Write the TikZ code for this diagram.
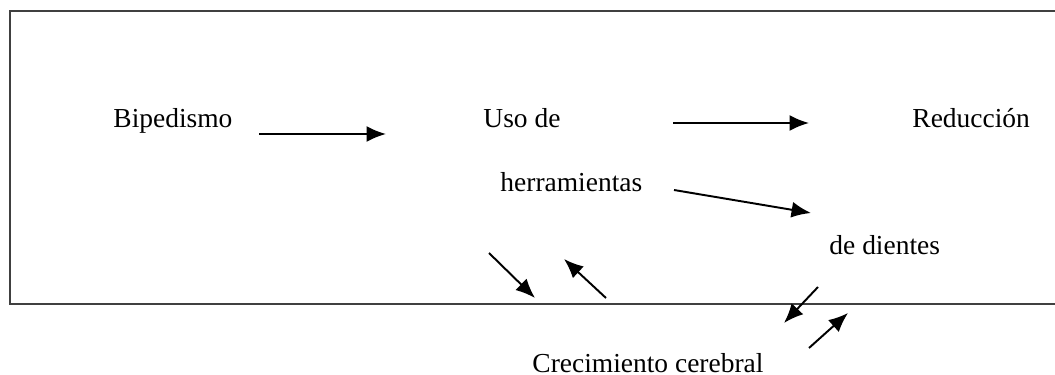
\documentclass[tikz,border=0pt]{standalone}
\usepackage{fontspec}
\setmainfont{Liberation Serif}
\usetikzlibrary{arrows.meta}

\tikzset{
  etiqueta/.style={font=\fontsize{12}{14}\selectfont, inner sep=0pt, anchor=base west},
  flecha/.style={line width=0.85pt, -{Latex[length=8.5pt,width=7pt]}},
  marco/.style={line width=0.7pt, draw=black!75}
}

\begin{document}
\begin{tikzpicture}[x=0.437pt,y=-0.437pt]
\useasboundingbox (0,0) rectangle (1055,375);

\draw [marco] (1056,11) -- (10,11) -- (10,304) -- (1056,304);

\node [etiqueta] (bip) at (113,128) {Bipedismo};
\node [etiqueta] (uso) at (483,128) {Uso de};
\node [etiqueta] (herr) at (500,191) {herramientas};
\node [etiqueta] (red) at (912,128) {Reducción};
\node [etiqueta] (dien) at (829,255) {de dientes};
\node [etiqueta] (crec) at (532,372) {Crecimiento cerebral};

% extremos de las flechas
\coordinate (a1) at (259,134); \coordinate (b1) at (386,134);
\coordinate (a2) at (673,123); \coordinate (b2) at (809,123);
\coordinate (a3) at (674,190); \coordinate (b3) at (811,213);
\coordinate (a4) at (489,253); \coordinate (b4) at (535,298);
\coordinate (a5) at (606,298); \coordinate (b5) at (564,259);
\coordinate (a6) at (818,287); \coordinate (b6) at (784,323);
\coordinate (a7) at (809,348); \coordinate (b7) at (848,313);

\foreach \i in {1,...,7}
  \draw [flecha] (a\i) -- (b\i);
\end{tikzpicture}
\end{document}
